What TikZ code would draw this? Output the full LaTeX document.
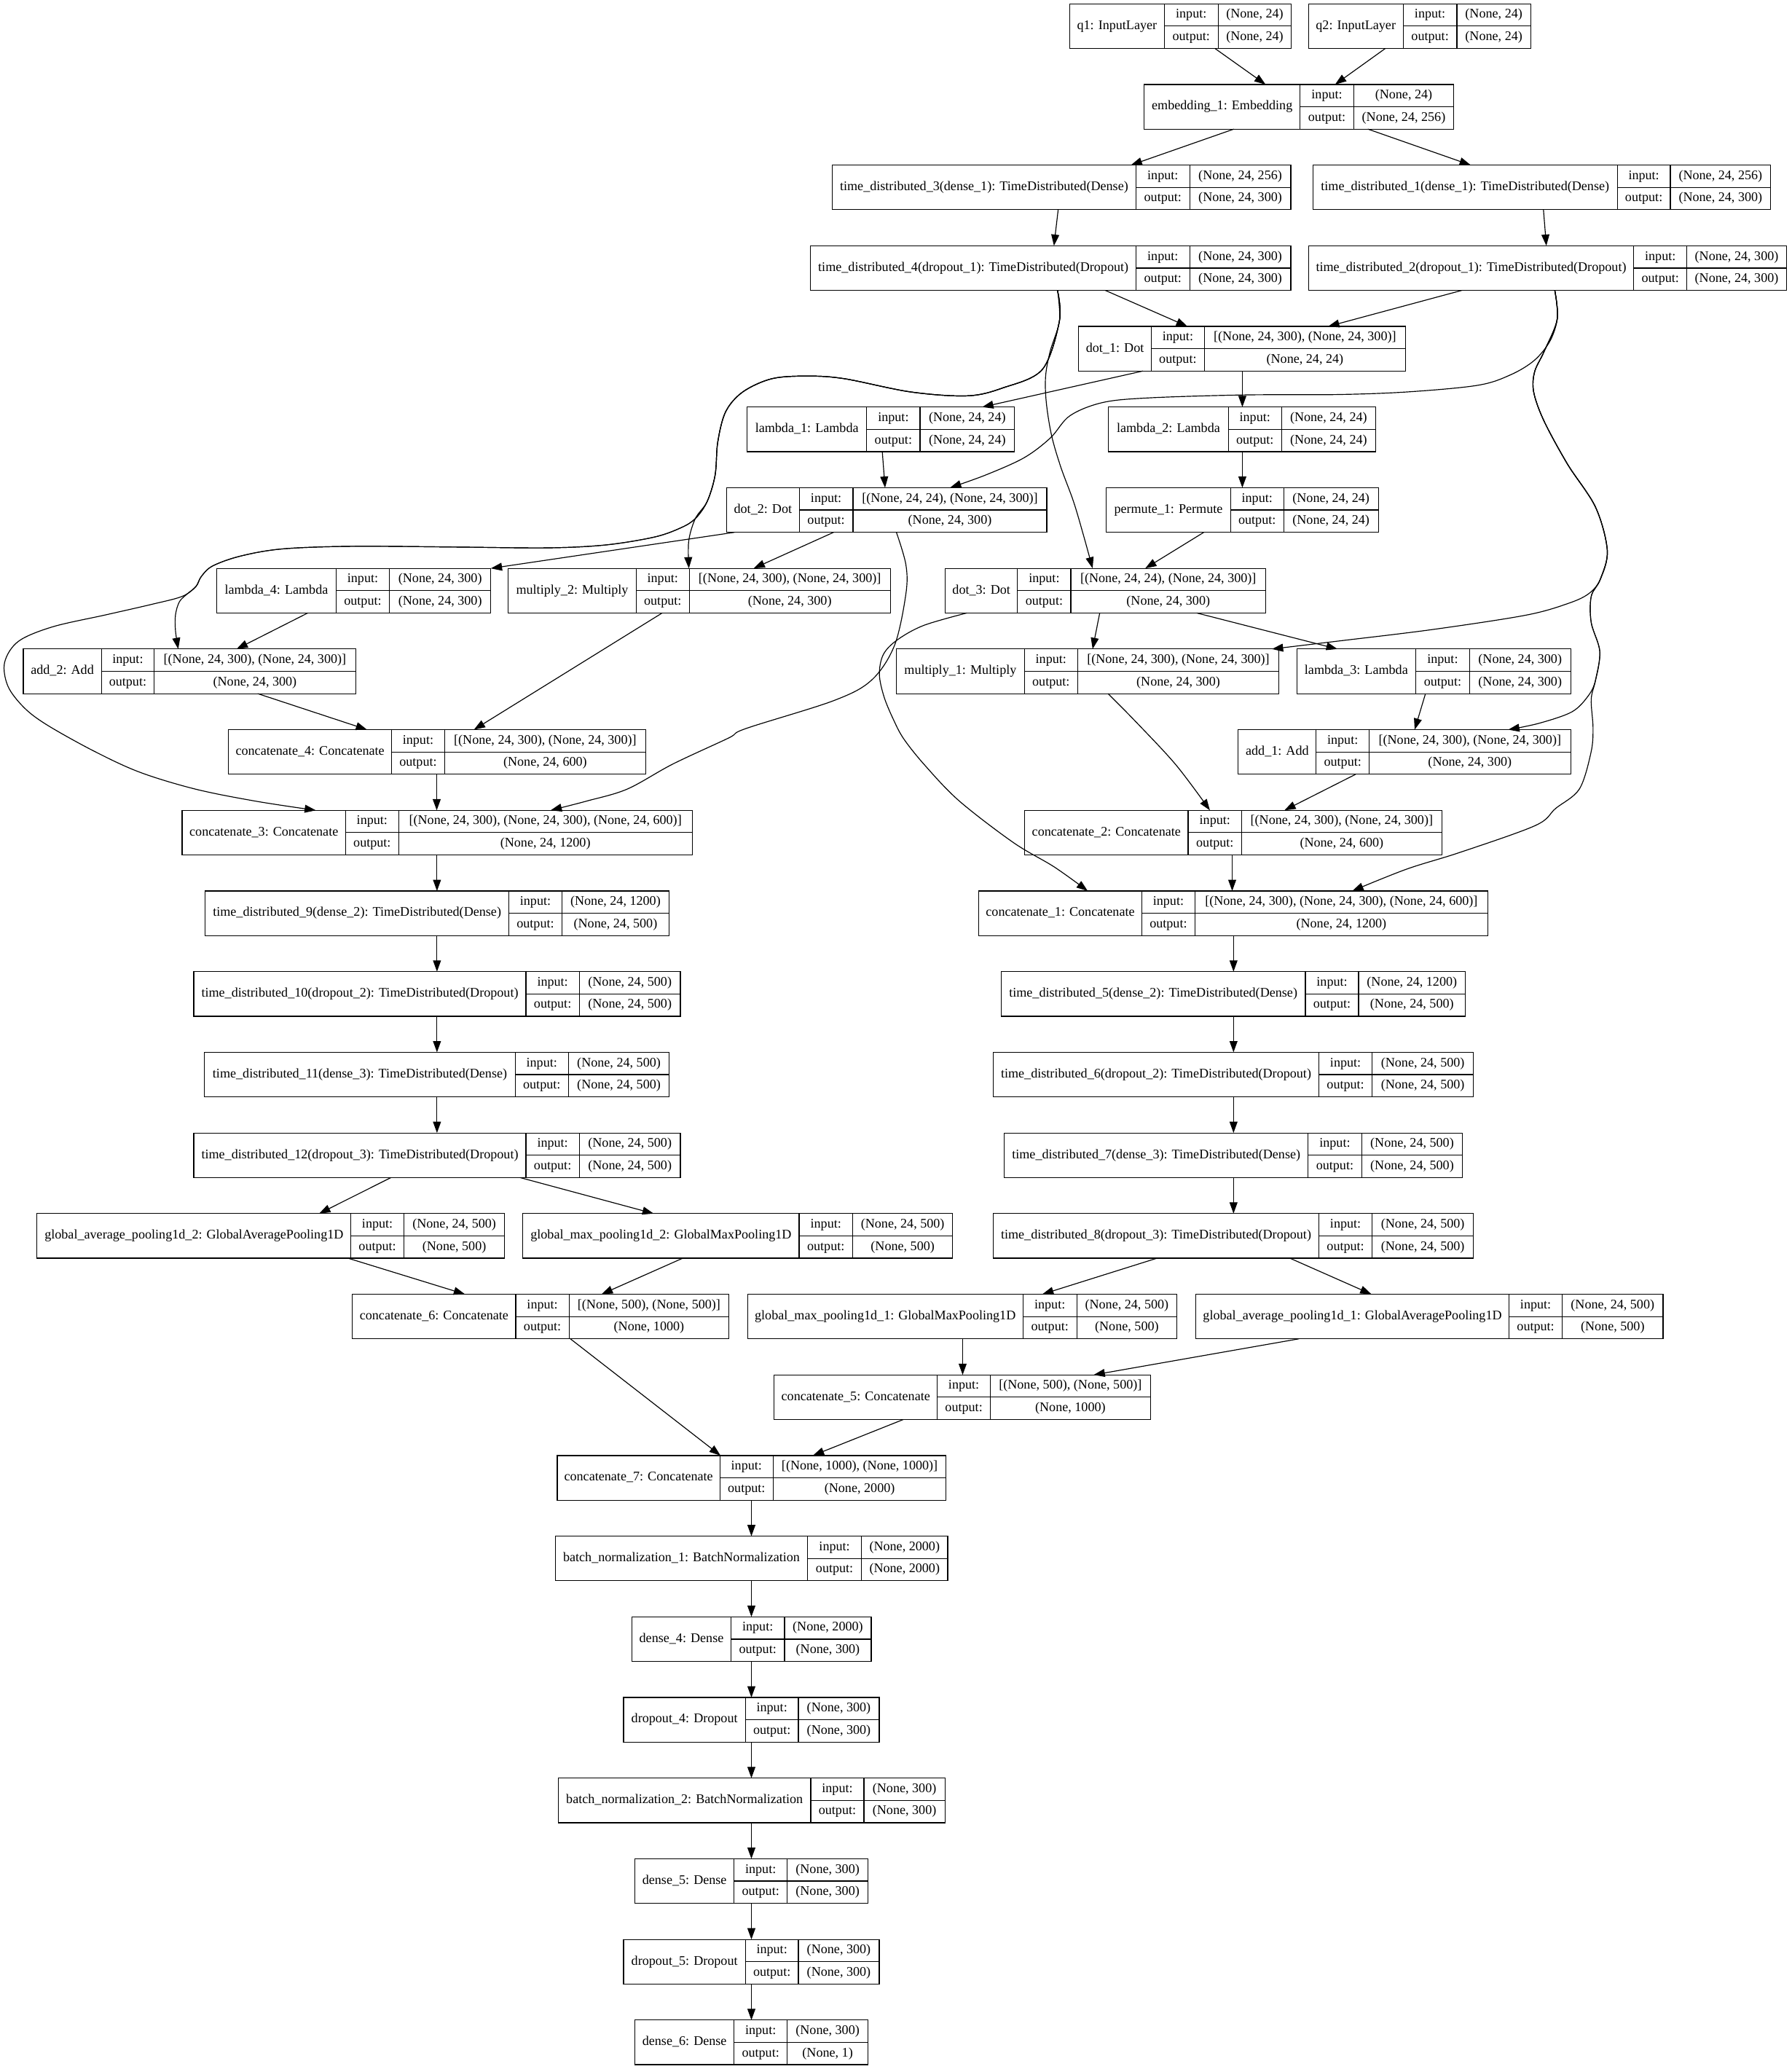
\documentclass[tikz,border=0pt]{standalone}
\usepackage{fontspec}
\setmainfont{Liberation Serif}
\usetikzlibrary{arrows.meta}

\newcommand\tfont{\fontsize{10}{12}\selectfont}

% One Keras layer drawn as a record: name | input:/output: | shapes
% #1 node name, #2 rank (row), #3..#6 x of left edge, two dividers, right edge,
% #7 layer label, #8 input shape, #9 output shape
\newcommand\layer[9]{%
  \pgfmathsetmacro\lyA{2.9+61.12*#2}%
  \pgfmathsetmacro\lyB{\lyA+33.8}%
  \pgfmathsetmacro\lyM{\lyA+16.9}%
  \pgfmathsetmacro\lyW{#6-#3}%
  \node[box, minimum width=\lyW pt, anchor=north west] (#1) at (#3,\lyA) {};
  \draw[cell] (#4,\lyA) -- (#4,\lyB) (#5,\lyA) -- (#5,\lyB) (#4,\lyM) -- (#6,\lyM);
  \node[txt] (#1-name) at ({(#3+#4)/2},\lyM) {#7};
  \node[txt] (#1-in) at ({(#4+#5)/2},{(\lyA+\lyM)/2}) {input:};
  \node[txt] (#1-out) at ({(#4+#5)/2},{(\lyM+\lyB)/2}) {output:};
  \node[txt] (#1-ishape) at ({(#5+#6)/2},{(\lyA+\lyM)/2}) {#8};
  \node[txt] (#1-oshape) at ({(#5+#6)/2},{(\lyM+\lyB)/2}) {#9};
}

\tikzset{
  box/.style={draw, line width=0.65pt, minimum height=33.8pt, inner sep=0pt, outer sep=0pt},
  cell/.style={line width=0.65pt},
  txt/.style={inner sep=0pt, font=\tfont, text height=7pt, text depth=2.2pt},
  conn/.style={draw, line width=0.65pt, -{Triangle[length=8.5pt,width=6pt]}},
  curve/.style={conn, smooth, tension=0.55}
}

\begin{document}
\begin{tikzpicture}[x=1pt, y=-1pt]
\fill[white] (0,0) rectangle (1358,1568);
\useasboundingbox (0,0) rectangle (1358,1568);

% ---------------- layers ----------------
\layer{q1}{0}{810.7}{882.5}{923.2}{978.8}{q1: InputLayer}{(None, 24)}{(None, 24)}
\layer{q2}{0}{991.7}{1063.5}{1104.2}{1160.2}{q2: InputLayer}{(None, 24)}{(None, 24)}
\layer{emb}{1}{867.2}{985.4}{1026}{1101.8}{embedding\_1: Embedding}{(None, 24)}{(None, 24, 256)}
\layer{td3}{2}{630.7}{861}{901.7}{978.3}{time\_distributed\_3(dense\_1): TimeDistributed(Dense)}{(None, 24, 256)}{(None, 24, 300)}
\layer{td1}{2}{995}{1225.8}{1266}{1342}{time\_distributed\_1(dense\_1): TimeDistributed(Dense)}{(None, 24, 256)}{(None, 24, 300)}
\layer{td4}{3}{614.4}{861}{901.7}{978.3}{time\_distributed\_4(dropout\_1): TimeDistributed(Dropout)}{(None, 24, 300)}{(None, 24, 300)}
\layer{td2}{3}{991.7}{1238.3}{1278.5}{1354}{time\_distributed\_2(dropout\_1): TimeDistributed(Dropout)}{(None, 24, 300)}{(None, 24, 300)}
\layer{dot1}{4}{817.5}{872.6}{912.8}{1065.3}{dot\_1: Dot}{[(None, 24, 300), (None, 24, 300)]}{(None, 24, 24)}
\layer{lam1}{5}{566.2}{656.9}{697.3}{768.9}{lambda\_1: Lambda}{(None, 24, 24)}{(None, 24, 24)}
\layer{lam2}{5}{840.2}{930.9}{971.4}{1042.5}{lambda\_2: Lambda}{(None, 24, 24)}{(None, 24, 24)}
\layer{dot2}{6}{550.7}{605.8}{646.5}{793.4}{dot\_2: Dot}{[(None, 24, 24), (None, 24, 300)]}{(None, 24, 300)}
\layer{perm1}{6}{838.4}{932.7}{972.9}{1044.7}{permute\_1: Permute}{(None, 24, 24)}{(None, 24, 24)}
\layer{lam4}{7}{164.3}{254.7}{295.2}{372}{lambda\_4: Lambda}{(None, 24, 300)}{(None, 24, 300)}
\layer{mul2}{7}{385.2}{482.2}{522.4}{674.8}{multiply\_2: Multiply}{[(None, 24, 300), (None, 24, 300)]}{(None, 24, 300)}
\layer{dot3}{7}{716.4}{771.2}{811.6}{959.3}{dot\_3: Dot}{[(None, 24, 24), (None, 24, 300)]}{(None, 24, 300)}
\layer{add2}{8}{17.7}{76.8}{116.9}{269.5}{add\_2: Add}{[(None, 24, 300), (None, 24, 300)]}{(None, 24, 300)}
\layer{mul1}{8}{679.4}{776.4}{816.8}{969.3}{multiply\_1: Multiply}{[(None, 24, 300), (None, 24, 300)]}{(None, 24, 300)}
\layer{lam3}{8}{982.8}{1073.1}{1113.7}{1190.5}{lambda\_3: Lambda}{(None, 24, 300)}{(None, 24, 300)}
\layer{cat4}{9}{173.2}{296.8}{337}{489.4}{concatenate\_4: Concatenate}{[(None, 24, 300), (None, 24, 300)]}{(None, 24, 600)}
\layer{add1}{9}{938.5}{997.6}{1037.7}{1190.4}{add\_1: Add}{[(None, 24, 300), (None, 24, 300)]}{(None, 24, 300)}
\layer{cat3}{10}{138}{262}{302.1}{524.6}{concatenate\_3: Concatenate}{[(None, 24, 300), (None, 24, 300), (None, 24, 600)]}{(None, 24, 1200)}
\layer{cat2}{10}{776.6}{900.5}{941.1}{1092.7}{concatenate\_2: Concatenate}{[(None, 24, 300), (None, 24, 300)]}{(None, 24, 600)}
\layer{td9}{11}{155.6}{385.6}{426}{507}{time\_distributed\_9(dense\_2): TimeDistributed(Dense)}{(None, 24, 1200)}{(None, 24, 500)}
\layer{cat1}{11}{741.7}{865.5}{905.6}{1127.7}{concatenate\_1: Concatenate}{[(None, 24, 300), (None, 24, 300), (None, 24, 600)]}{(None, 24, 1200)}
\layer{td10}{12}{146.9}{398.6}{439.1}{515.7}{time\_distributed\_10(dropout\_2): TimeDistributed(Dropout)}{(None, 24, 500)}{(None, 24, 500)}
\layer{td5}{12}{758.7}{989.4}{1029.7}{1110.6}{time\_distributed\_5(dense\_2): TimeDistributed(Dense)}{(None, 24, 1200)}{(None, 24, 500)}
\layer{td11}{13}{155}{390.5}{430.8}{507.3}{time\_distributed\_11(dense\_3): TimeDistributed(Dense)}{(None, 24, 500)}{(None, 24, 500)}
\layer{td6}{13}{752.9}{999.5}{1040.1}{1116.6}{time\_distributed\_6(dropout\_2): TimeDistributed(Dropout)}{(None, 24, 500)}{(None, 24, 500)}
\layer{td12}{14}{146.9}{398.6}{439.1}{515.7}{time\_distributed\_12(dropout\_3): TimeDistributed(Dropout)}{(None, 24, 500)}{(None, 24, 500)}
\layer{td7}{14}{761.2}{991.4}{1032}{1108.5}{time\_distributed\_7(dense\_3): TimeDistributed(Dense)}{(None, 24, 500)}{(None, 24, 500)}
\layer{gap2}{15}{28.1}{266}{306.1}{382.5}{global\_average\_pooling1d\_2: GlobalAveragePooling1D}{(None, 24, 500)}{(None, 500)}
\layer{gmp2}{15}{396.3}{605.7}{646.2}{722.1}{global\_max\_pooling1d\_2: GlobalMaxPooling1D}{(None, 24, 500)}{(None, 500)}
\layer{td8}{15}{752.9}{999.5}{1040.1}{1116.6}{time\_distributed\_8(dropout\_3): TimeDistributed(Dropout)}{(None, 24, 500)}{(None, 24, 500)}
\layer{cat6}{16}{267.1}{390.9}{431.3}{552.5}{concatenate\_6: Concatenate}{[(None, 500), (None, 500)]}{(None, 1000)}
\layer{gmp1}{16}{566.6}{775.3}{816.1}{892}{global\_max\_pooling1d\_1: GlobalMaxPooling1D}{(None, 24, 500)}{(None, 500)}
\layer{gap1}{16}{906.2}{1143.8}{1184}{1260.5}{global\_average\_pooling1d\_1: GlobalAveragePooling1D}{(None, 24, 500)}{(None, 500)}
\layer{cat5}{17}{586.8}{710.4}{750.6}{871.9}{concatenate\_5: Concatenate}{[(None, 500), (None, 500)]}{(None, 1000)}
\layer{cat7}{18}{422.4}{545.6}{586}{717.1}{concatenate\_7: Concatenate}{[(None, 1000), (None, 1000)]}{(None, 2000)}
\layer{bn1}{19}{420.9}{612.1}{652.9}{718.3}{batch\_normalization\_1: BatchNormalization}{(None, 2000)}{(None, 2000)}
\layer{dense4}{20}{479}{554}{594.6}{660.3}{dense\_4: Dense}{(None, 2000)}{(None, 300)}
\layer{drop4}{21}{472.6}{565}{605.1}{666.4}{dropout\_4: Dropout}{(None, 300)}{(None, 300)}
\layer{bn2}{22}{423.1}{614.5}{654.8}{716.2}{batch\_normalization\_2: BatchNormalization}{(None, 300)}{(None, 300)}
\layer{dense5}{23}{481.2}{556.4}{596.6}{657.9}{dense\_5: Dense}{(None, 300)}{(None, 300)}
\layer{drop5}{24}{472.6}{565}{605.1}{666.4}{dropout\_5: Dropout}{(None, 300)}{(None, 300)}
\layer{dense6}{25}{481.2}{556.4}{596.6}{657.9}{dense\_6: Dense}{(None, 300)}{(None, 1)}

% ---------------- straight connectors ----------------
\draw[conn] (q1.south -| 920.8,0) -- (emb.north -| 959.2,0);
\draw[conn] (q2.south -| 1050,0) -- (emb.north -| 1011.9,0);
\draw[conn] (emb.south -| 935.2,0) -- (td3.north -| 857.1,0);
\draw[conn] (emb.south -| 1036.7,0) -- (td1.north -| 1114.7,0);
\draw[conn] (td3.south -| 802,0) -- (td4.north -| 798.8,0);
\draw[conn] (td1.south -| 1169.8,0) -- (td2.north -| 1172,0);
\draw[conn] (td4.south -| 837.7,0) -- (dot1.north -| 900,0);
\draw[conn] (td2.south -| 1108,0) -- (dot1.north -| 1006.6,0);
\draw[conn] (dot1.south -| 866.2,0) -- (lam1.north -| 744.4,0);
\draw[conn] (dot1.south -| 941.6,0) -- (lam2.north -| 941.6,0);
\draw[conn] (lam1.south -| 668.7,0) -- (dot2.north -| 670.8,0);
\draw[conn] (lam2.south -| 941.6,0) -- (perm1.north -| 941.6,0);
\draw[conn] (perm1.south -| 912.4,0) -- (dot3.north -| 868,0);
\draw[conn] (dot2.south -| 556.7,0) -- (lam4.north -| 372,0);
\draw[conn] (dot2.south -| 631.8,0) -- (mul2.north -| 571.2,0);
\draw[conn] (lam4.south -| 233.3,0) -- (add2.north -| 179.3,0);
\draw[conn] (dot3.south -| 833.5,0) -- (mul1.north -| 828.1,0);
\draw[conn] (dot3.south -| 907,0) -- (lam3.north -| 1013.7,0);
\draw[conn] (lam3.south -| 1080.4,0) -- (add1.north -| 1072.2,0);
\draw[conn] (add2.south -| 195.3,0) -- (cat4.north -| 278.2,0);
\draw[conn] (mul2.south -| 501.9,0) -- (cat4.north -| 359.2,0);
\draw[conn] (cat4.south -| 331,0) -- (cat3.north -| 331,0);
\draw[conn] (add1.south -| 1027.5,0) -- (cat2.north -| 973.5,0);
\draw[conn] (cat2.south -| 933.9,0) -- (cat1.north -| 933.9,0);
\draw[conn] (cat3.south -| 331.2,0) -- (td9.north -| 331.2,0);
\draw[conn] (td9.south -| 331.2,0) -- (td10.north -| 331.2,0);
\draw[conn] (td10.south -| 331.2,0) -- (td11.north -| 331.2,0);
\draw[conn] (td11.south -| 331.2,0) -- (td12.north -| 331.2,0);
\draw[conn] (cat1.south -| 934.9,0) -- (td5.north -| 934.9,0);
\draw[conn] (td5.south -| 934.9,0) -- (td6.north -| 934.9,0);
\draw[conn] (td6.south -| 934.9,0) -- (td7.north -| 934.9,0);
\draw[conn] (td7.south -| 934.9,0) -- (td8.north -| 934.9,0);
\draw[conn] (td12.south -| 296.4,0) -- (gap2.north -| 241.9,0);
\draw[conn] (td12.south -| 394,0) -- (gmp2.north -| 495.4,0);
\draw[conn] (td8.south -| 877,0) -- (gmp1.north -| 790,0);
\draw[conn] (td8.south -| 977.6,0) -- (gap1.north -| 1039.4,0);
\draw[conn] (gap2.south -| 263.7,0) -- (cat6.north -| 352.4,0);
\draw[conn] (gmp2.south -| 517.5,0) -- (cat6.north -| 455.9,0);
\draw[conn] (gmp1.south -| 729.6,0) -- (cat5.north -| 729.6,0);
\draw[conn] (gap1.south -| 984.5,0) -- (cat5.north -| 828.9,0);
\draw[conn] (cat6.south -| 432.3,0) -- (cat7.north -| 546.1,0);
\draw[conn] (cat5.south -| 684.7,0) -- (cat7.north -| 616.1,0);
\draw[conn] (cat7.south -| 569.5,0) -- (bn1.north -| 569.5,0);
\draw[conn] (bn1.south -| 569.5,0) -- (dense4.north -| 569.5,0);
\draw[conn] (dense4.south -| 569.5,0) -- (drop4.north -| 569.5,0);
\draw[conn] (drop4.south -| 569.5,0) -- (bn2.north -| 569.5,0);
\draw[conn] (bn2.south -| 569.5,0) -- (dense5.north -| 569.5,0);
\draw[conn] (dense5.south -| 569.5,0) -- (drop5.north -| 569.5,0);
\draw[conn] (drop5.south -| 569.5,0) -- (dense6.north -| 569.5,0);

% ---------------- curved connectors ----------------
\draw[curve] plot coordinates {(mul1.south -| 839.8,0) (860.4,546.5) (891.2,579.6) (cat2.north -| 917,0)};

% time_distributed_4 -> multiply_2 / add_2 / concatenate_3 (common trunk)
\draw[curve] plot coordinates {(td4.south -| 801.5,0) (803,243) (790,280) (760,294) (733,300)
  (690,297) (640,287) (612,285) (585,287) (563,297) (550,312) (544,335) (542,360)
  (536,380) (527,393) (522,410) (mul2.north -| 522.1,0)};
\draw[curve] plot coordinates {(td4.south -| 801.5,0) (803,243) (790,280) (760,294) (733,300)
  (690,297) (640,287) (612,285) (585,287) (563,297) (550,312) (544,335) (542,360)
  (536,380) (527,393) (516,400) (496,407) (459,413) (415,415.2) (348,414.6) (268,414)
  (214,416) (182,421.5) (161,429) (152.5,437) (148.5,444.5) (142,450) (136,456) (133,466)
  (133,478) (add2.north -| 135.1,0)};
\draw[curve] plot coordinates {(td4.south -| 801.5,0) (803,243) (790,280) (760,294) (733,300)
  (690,297) (640,287) (612,285) (585,287) (563,297) (550,312) (544,335) (542,360)
  (536,380) (527,393) (516,400) (496,407) (459,413) (415,415.2) (348,414.6) (268,414)
  (214,416) (182,421.5) (161,429) (152.5,437) (148.5,444.5) (138,452) (115,458) (80,466)
  (40,475) (14,486) (3.5,502) (6,520) (18,536) (35,549) (70,568.6) (105.6,585.1)
  (148,598) (194,607.2) (cat3.north -| 239.4,0)};

% time_distributed_4 -> dot_3
\draw[curve] plot coordinates {(td4.south -| 801.5,0) (803,243) (796,266) (792.5,285)
  (793,305) (797,330) (804,354) (813.6,380) (821,405) (dot3.north -| 828.1,0)};

% time_distributed_2 -> dot_2
\draw[curve] plot coordinates {(td2.south -| 1178.4,0) (1180.5,240) (1175,258) (1163,273)
  (1145,284) (1120,292) (1067,297) (1014,299) (943,299.3) (871.5,301.5) (836,305)
  (811,315) (796,332) (776,347) (747,360) (dot2.north -| 720,0)};

% time_distributed_2 -> multiply_1 / add_1 / concatenate_1 (common trunk)
\draw[curve] plot coordinates {(td2.south -| 1178.4,0) (1180.1,242.5) (1170.2,266.6)
  (1163.1,281.8) (1162.4,297.1) (1170.2,319) (1188,351.7) (1209.3,384.4) (1218.2,417.2)
  (1212.9,439) (1204,450) (1188,457.5) (1156,466.3) (1084.9,477.2) (1013.7,485.9)
  (mul1.north -| 964,0)};
\draw[curve] plot coordinates {(td2.south -| 1178.4,0) (1180.1,242.5) (1170.2,266.6)
  (1163.1,281.8) (1162.4,297.1) (1170.2,319) (1188,351.7) (1209.3,384.4) (1218.2,417.2)
  (1212.9,439) (1206,452) (1206,471.8) (1212.5,493.6) (1209.3,515.4) (1204,527)
  (1191.5,539.4) (1166.6,548.1) (add1.north -| 1143.1,0)};
\draw[curve] plot coordinates {(td2.south -| 1178.4,0) (1180.1,242.5) (1170.2,266.6)
  (1163.1,281.8) (1162.4,297.1) (1170.2,319) (1188,351.7) (1209.3,384.4) (1218.2,417.2)
  (1212.9,439) (1206,452) (1206,471.8) (1212.5,493.6) (1209.3,515.4) (1206,530)
  (1207.4,552) (1205.8,570.4) (1197,598) (1179,612.7) (1163.7,625.6) (1107.1,645.8)
  (1066,658.7) (cat1.north -| 1024.9,0)};

% dot_2 -> concatenate_3
\draw[curve] plot coordinates {(dot2.south -| 679.4,0) (686.6,428) (686.6,450) (678,489)
  (660.6,515.4) (631.8,531) (565.4,552.1) (552,559.4) (510,579) (475.4,598) (445,607)
  (cat3.north -| 417.3,0)};

% dot_3 -> concatenate_1
\draw[curve] plot coordinates {(dot3.south -| 732.8,0) (700,474) (680,485) (669.5,496)
  (666.5,511) (670,528) (677,545) (685,560) (701,580) (727,607) (768,638.5) (799,657)
  (cat1.north -| 824.4,0)};
\end{tikzpicture}
\end{document}
